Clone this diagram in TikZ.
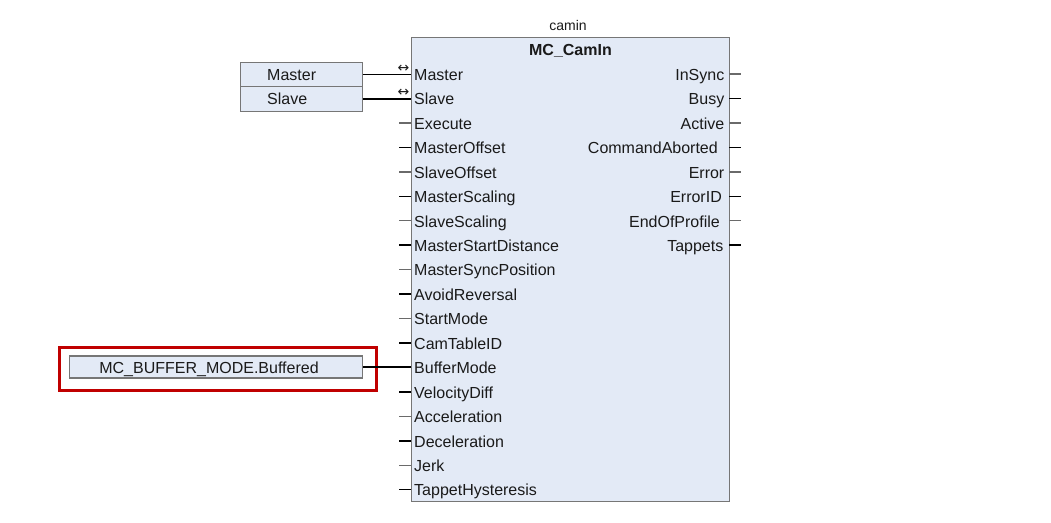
\documentclass[tikz,border=0pt]{standalone}
\usepackage{fontspec}
\setmainfont{Liberation Sans}
\newfontfamily\symfont{DejaVu Sans}
\definecolor{blkfill}{HTML}{E3EAF6}
\definecolor{blkline}{HTML}{767676}
\definecolor{txt}{HTML}{1A1A1A}
\definecolor{redbox}{HTML}{C00000}
\definecolor{stubgray}{HTML}{6A6A6A}
\begin{document}
\begin{tikzpicture}[x=1pt,y=-1pt,
  lbl/.style={font=\fontsize{16}{18}\selectfont, text=txt, inner sep=0pt},
  pinbox/.style={draw=blkline, fill=blkfill, line width=1.2pt, inner sep=0pt},
  stubdark/.style={draw=black, line width=1.5pt},
  stublight/.style={draw=stubgray, line width=1.4pt},
  wire/.style={draw=black, line width=1.5pt}]
\useasboundingbox (0,0) rectangle (1051,522);

% main block
\node[pinbox, anchor=north west, minimum width=318pt, minimum height=464pt] (blk) at (411,37) {};
\node[lbl, font=\fontsize{14}{16}\selectfont, anchor=base] (inst) at (568,30.5) {camin};
\node[lbl, font=\fontsize{16}{18}\selectfont\bfseries, anchor=base] (title) at (570.5,55.5) {MC\_CamIn};

% inputs
\foreach \nm [count=\i] in {Master,Slave,Execute,MasterOffset,SlaveOffset,MasterScaling,SlaveScaling,MasterStartDistance,MasterSyncPosition,AvoidReversal,StartMode,CamTableID,BufferMode,VelocityDiff,Acceleration,Deceleration,Jerk,TappetHysteresis}{
  \pgfmathsetmacro{\yb}{80.3+(\i-1)*24.45}
  \node[lbl, anchor=base west] (in\i) at (414,\yb) {\nm};
  \coordinate (pin\i) at (411,\yb-6.3);
  \coordinate (pinout\i) at (398.5,\yb-6.3);
}
\foreach \i in {3,5,7,9,11,15,17}{ \draw[stublight] (pin\i) -- (pinout\i); }
\foreach \i in {4,6,8,10,12,14,16,18}{ \draw[stubdark] (pin\i) -- (pinout\i); }

% outputs
\foreach \nm/\xr [count=\i] in {InSync/724.5,Busy/724.5,Active/724.5,CommandAborted/718,Error/724.5,ErrorID/722,EndOfProfile/720,Tappets/723.5}{
  \pgfmathsetmacro{\yb}{80.3+(\i-1)*24.45}
  \node[lbl, anchor=base east] (out\i) at (\xr,\yb) {\nm};
  \coordinate (qin\i) at (729,\yb-6.3);
  \coordinate (qout\i) at (741,\yb-6.3);
}
\foreach \i in {1,3,5,7}{ \draw[stublight] (qin\i) -- (qout\i); }
\foreach \i in {2,4,6,8}{ \draw[stubdark] (qin\i) -- (qout\i); }

% Master / Slave variables
\node[pinbox, anchor=north west, minimum width=122pt, minimum height=24.4pt] (vmaster) at (240,61.8) {};
\node[pinbox, anchor=north west, minimum width=122pt, minimum height=24.4pt] (vslave) at (240,86.2) {};
\node[lbl, anchor=base west] (tmaster) at (267,80.3) {Master};
\node[lbl, anchor=base west] (tslave) at (267,104.75) {Slave};
\draw[wire] (vmaster.east) -- (vmaster.east -| pin1);
\draw[wire] (vslave.east) -- (vslave.east -| pin2);
\node[inner sep=0pt, font=\symfont\fontsize{14}{14}\selectfont, text=txt, anchor=center] (arr1) at (403.5,68.5) {↔};
\node[inner sep=0pt, font=\symfont\fontsize{14}{14}\selectfont, text=txt, anchor=center] (arr2) at (403.5,93) {↔};

% BufferMode constant
\node[pinbox, anchor=west, minimum width=293pt, minimum height=22pt] (vbuf) at (69,367.05) {};
\node[lbl, anchor=base] (tbuf) at (209,373.5) {MC\_BUFFER\_MODE.Buffered};
\node[draw=redbox, line width=2.6pt, anchor=north west, minimum width=317pt, minimum height=43pt, inner sep=0pt] (hl) at (58,346) {};
\draw[wire] (vbuf.east) -- (vbuf.east -| pin13);
\end{tikzpicture}
\end{document}
